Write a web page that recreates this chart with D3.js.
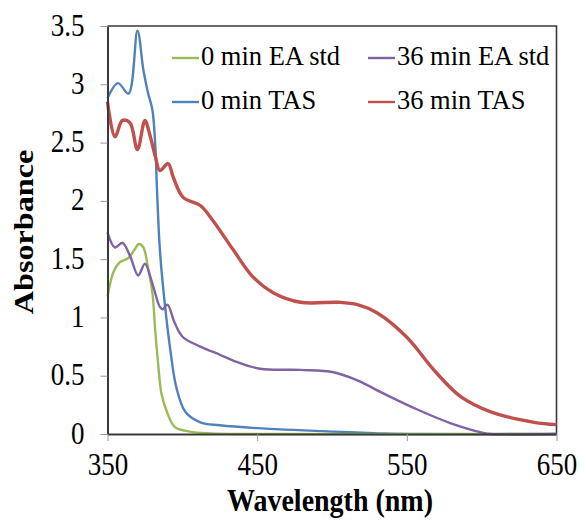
<!DOCTYPE html>
<html>
<head>
<meta charset="utf-8">
<script src="https://cdn.jsdelivr.net/npm/d3@7"></script>
<style>
  html, body { margin: 0; padding: 0; background: #fff; }
  svg text { font-family: "Liberation Serif", "Times New Roman", serif; fill: #000; }
</style>
</head>
<body>
<svg id="chart" width="580" height="520"></svg>
<script>
// UV-Vis absorbance spectra (wavelength in nm, absorbance)
const eaStd0 = [
  [350, 1.18], [354, 1.39], [358, 1.47], [364, 1.51], [368, 1.58], [371, 1.63],
  [374, 1.60], [377, 1.43], [380, 1.21], [382, 0.87], [384, 0.58], [386, 0.35],
  [390, 0.18], [395, 0.06], [405, 0.02], [420, 0.005], [440, 0], [650, 0]
];
const eaStd36 = [
  [350, 1.73], [355, 1.60], [360, 1.64], [365, 1.53], [370.5, 1.36], [375, 1.46],
  [380, 1.29], [385, 1.09], [387, 1.07], [390, 1.11], [395, 0.95], [400.5, 0.83],
  [412, 0.75], [425, 0.68], [434, 0.63], [452, 0.56], [479, 0.55], [501, 0.53],
  [517, 0.46], [534, 0.35], [557, 0.21], [579, 0.094], [601, 0.01], [606, 0], [650, 0]
];
const tas0 = [
  [350, 2.88], [357, 3.01], [364, 2.92], [370, 3.46], [374, 3.12], [377, 2.93],
  [380, 2.78], [382, 2.46], [383, 2.12], [385, 1.58], [388.5, 1.09], [392, 0.72],
  [396, 0.40], [402, 0.19], [412, 0.10], [425, 0.075], [450, 0.05], [501, 0.02],
  [534, 0.005], [560, 0], [650, 0]
];
const tas36 = [
  [350, 2.85], [355, 2.55], [360, 2.69], [365, 2.67], [370, 2.44], [375, 2.69],
  [378, 2.58], [382, 2.38], [385, 2.26], [390.5, 2.32], [394, 2.20], [400.5, 2.03],
  [412, 1.96], [420.5, 1.83], [434, 1.58], [447, 1.35], [461, 1.21], [479, 1.13],
  [505, 1.13], [517, 1.11], [530, 1.04], [550, 0.83], [568, 0.55], [586, 0.32],
  [606, 0.19], [635, 0.10], [650, 0.08]
];

const seriesNames = ["0 min EA std", "36 min EA std", "0 min TAS", "36 min TAS"];
const seriesColors = ["#9BBB59", "#8064A2", "#4F81BD", "#C0504D"];
const seriesData = [eaStd0, eaStd36, tas0, tas36];

const xTicks = [350, 450, 550, 650];
const yTicks = [0, 0.5, 1, 1.5, 2, 2.5, 3, 3.5];

const svg = d3.select("#chart");
const plotLeft = 107.5, plotRight = 556.5, plotTop = 26, plotBottom = 434;
const stretch = 1.15;

const x = d3.scaleLinear().domain([350, 650]).range([plotLeft, plotRight]);
const y = d3.scaleLinear().domain([0, 3.5]).range([plotBottom, plotTop]);

// frame on top and right
svg.append("path")
  .attr("d", `M${plotLeft},${plotTop}H${plotRight}V${plotBottom}`)
  .attr("fill", "none").attr("stroke", "#3a3a3a").attr("stroke-width", 1.6);

// spectra, smoothed
const line = d3.line().x(d => x(d[0])).y(d => y(d[1])).curve(d3.curveCatmullRom.alpha(0.5));
const drawOrder = [2, 0, 1, 3];
drawOrder.forEach(i => {
  svg.append("path")
    .datum(seriesData[i])
    .attr("d", line)
    .attr("fill", "none")
    .attr("stroke", seriesColors[i])
    .attr("stroke-width", i === 3 ? 3.4 : 2.4)
    .attr("stroke-linejoin", "round");
});

// axes
const xAxis = svg.append("g")
  .attr("transform", `translate(0,${plotBottom})`)
  .call(d3.axisBottom(x).tickValues(xTicks).tickSize(7).tickSizeOuter(0).tickFormat(d3.format("d")));
const yAxis = svg.append("g")
  .attr("transform", `translate(${plotLeft},0)`)
  .call(d3.axisLeft(y).tickValues(yTicks).tickSize(7).tickSizeOuter(0).tickFormat(d => String(d)));

[xAxis, yAxis].forEach(g => {
  g.select(".domain").attr("stroke", "#3a3a3a").attr("stroke-width", 2);
  g.selectAll(".tick line").attr("stroke", "#9a9a9a").attr("stroke-width", 1);
  g.selectAll(".tick text").attr("font-family", "Liberation Serif").attr("font-size", 27).attr("fill", "#000");
});
xAxis.selectAll(".tick text")
  .attr("dy", null).attr("y", 0)
  .attr("transform", `translate(0,41) scale(1,${stretch})`);
yAxis.selectAll(".tick text")
  .attr("dy", null).attr("x", 0).attr("y", 0)
  .attr("transform", `translate(-23,9) scale(1,${stretch})`);

// axis titles
svg.append("text")
  .attr("transform", `translate(330,511) scale(1,${stretch})`)
  .attr("text-anchor", "middle")
  .attr("font-weight", "bold").attr("font-size", 28)
  .text("Wavelength (nm)");
svg.append("text")
  .attr("transform", `translate(33,232) rotate(-90) scale(${stretch},1)`)
  .attr("text-anchor", "middle")
  .attr("font-weight", "bold").attr("font-size", 28)
  .text("Absorbance");

// legend
const legendPos = [[172, 58], [368, 58], [172, 102], [368, 102]];
seriesNames.forEach((name, i) => {
  const [lx, ly] = legendPos[i];
  svg.append("line")
    .attr("x1", lx).attr("x2", lx + 27).attr("y1", ly).attr("y2", ly)
    .attr("stroke", seriesColors[i]).attr("stroke-width", 2.4);
  svg.append("text")
    .attr("transform", `translate(${lx + 29},${ly + 7}) scale(1,1.05)`)
    .attr("font-size", 26.5)
    .text(name);
});
</script>
</body>
</html>
